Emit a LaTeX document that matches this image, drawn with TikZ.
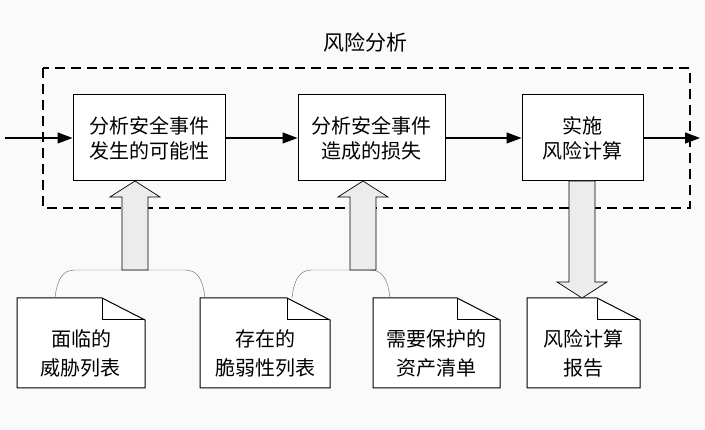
\documentclass[tikz,border=0pt]{standalone}
\usepackage{fontspec}
\setmainfont{Noto Sans CJK SC}
\usetikzlibrary{arrows.meta,shapes.arrows}
\tikzset{
  stage/.style={draw, line width=1pt, fill=white, minimum height=86pt, align=center, font=\fontsize{20}{25}\selectfont},
  doctext/.style={align=center, font=\fontsize{20}{29}\selectfont},
  flow/.style={line width=1.2pt, -{Triangle[length=15pt,width=11pt]}},
  fat/.style={draw, fill=gray!15, line width=0.7pt}
}
\newcommand{\docshape}[4]{% name, x, y (top), width
  \draw[line width=1pt, fill=white] (#2,#3) -- ++(#4-43,0) -- ++(43,-22) -- ++(0,-68) -- ++(-#4,0) -- cycle;
  \draw[line width=1pt] (#2+#4-43,#3) -- ++(0,-22) -- ++(43,0);
  \coordinate (#1) at (#2+#4/2,#3-55);
}
\begin{document}
\begin{tikzpicture}[x=1pt,y=1pt]
\useasboundingbox (0,0) rectangle (705,430);
\fill[gray!4] (0,0) rectangle (705,430);
% frame
\draw[line width=1.3pt, dash pattern=on 10pt off 6pt] (43,362) rectangle (690,222);
\node[font=\fontsize{21}{25}\selectfont] (title) at (365,388) {风险分析};
% stages
\node[stage, minimum width=152pt] (s1) at (149,292) {分析安全事件\\发生的可能性};
\node[stage, minimum width=147pt] (s2) at (371.5,292) {分析安全事件\\造成的损失};
\node[stage, minimum width=121pt] (s3) at (582.5,292) {实施\\风险计算};
\coordinate (in) at (5,292);
\coordinate (out) at (700,292);
\draw[flow] (in) -- (s1);
\draw[flow] (s1) -- (s2);
\draw[flow] (s2) -- (s3);
\draw[flow] (s3) -- (out);
% documents
\docshape{d1}{17}{132}{128}
\docshape{d2}{200}{132}{130}
\docshape{d3}{373}{132}{127}
\docshape{d4}{527}{132}{113}
\node[doctext] at (d1) {面临的\\威胁列表};
\node[doctext] at (d2) {存在的\\脆弱性列表};
\node[doctext] at (d3) {需要保护的\\资产清单};
\node[doctext] at (d4) {风险计算\\报告};
% braces
\draw[gray!80!black] (55,132) .. controls (57,150) and (62,160) .. (75,160) -- (185,160) .. controls (198,160) and (203,150) .. (205,132);
\draw[gray!80!black] (292,132) .. controls (294,150) and (299,160) .. (312,160) -- (370,160) .. controls (383,160) and (388,150) .. (390,132);
% fat arrows
\draw[fat] (122,160) -- (122,233) -- (110,233) -- (135,249) -- (160,233) -- (148,233) -- (148,160) -- cycle;
\draw[fat] (350,160) -- (350,233) -- (338,233) -- (363,249) -- (388,233) -- (376,233) -- (376,160) -- cycle;
\draw[fat] (569,249) -- (569,148) -- (557,148) -- (582,132) -- (607,148) -- (595,148) -- (595,249) -- cycle;
\end{tikzpicture}
\end{document}
